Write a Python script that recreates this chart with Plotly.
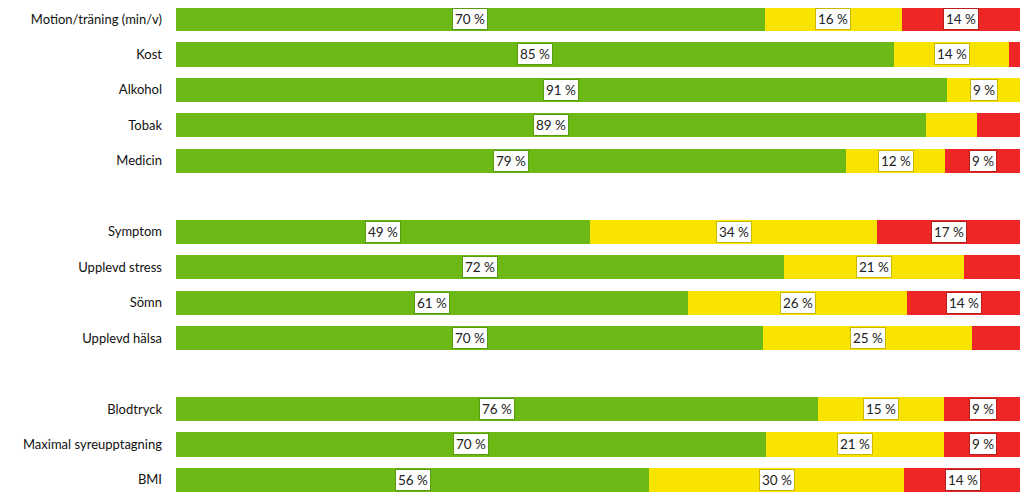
import plotly.graph_objects as go

# Categories top to bottom, with None as spacer rows between groups
categories = ["Motion/träning (min/v)", "Kost", "Alkohol", "Tobak", "Medicin", None,
              "Symptom", "Upplevd stress", "Sömn", "Upplevd hälsa", None,
              "Blodtryck", "Maximal syreupptagning", "BMI"]

green = [69.7, 85.0, 91.2, 88.8, 79.3, None, 49.0, 72.0, 60.6, 69.5, None, 76.0, 69.8, 56.0]
yellow = [16.2, 13.6, 8.8, 6.0, 11.7, None, 34.0, 21.2, 25.9, 24.7, None, 14.9, 21.1, 30.2]
red = [14.1, 1.4, 0.0, 5.2, 9.0, None, 17.0, 6.8, 13.5, 5.8, None, 9.1, 9.1, 13.8]

# Label texts as printed on the bars (blank = no label)
green_text = ["70 %", "85 %", "91 %", "89 %", "79 %", None, "49 %", "72 %", "61 %", "70 %", None, "76 %", "70 %", "56 %"]
yellow_text = ["16 %", "14 %", "9 %", "", "12 %", None, "34 %", "21 %", "26 %", "25 %", None, "15 %", "21 %", "30 %"]
red_text = ["14 %", "", "", "", "9 %", None, "17 %", "", "14 %", "", None, "9 %", "9 %", "14 %"]

rows = [i for i, c in enumerate(categories) if c is not None]
names = [categories[i] for i in rows]

series = [
    ("Grön", green, green_text, "#6cb815", "#5a9c10"),
    ("Gul", yellow, yellow_text, "#f9e300", "#c9b800"),
    ("Röd", red, red_text, "#ee2726", "#b81e1d"),
]

FONT = "Lato, Open Sans, sans-serif"

fig = go.Figure()
base = [0.0] * len(rows)
annotations = []
for name, vals, texts, color, border in series:
    v = [vals[i] for i in rows]
    fig.add_trace(go.Bar(
        y=rows, x=v, name=name, orientation="h",
        marker=dict(color=color, line=dict(width=0)),
        width=0.68, hoverinfo="skip",
    ))
    for k, i in enumerate(rows):
        t = texts[i]
        if t:
            annotations.append(dict(
                x=base[k] + v[k] / 2, y=i, xref="x", yref="y", text=t,
                showarrow=False, bgcolor="white", bordercolor=border,
                borderwidth=1, borderpad=2,
                font=dict(family=FONT, size=13.5, color="#222222"),
            ))
        base[k] += v[k]

# the page body adds an 8 px margin, so the figure is sized to fit the window
fig.update_layout(
    barmode="stack",
    width=1020, height=495,
    margin=dict(l=168, r=7, t=0, b=5),
    plot_bgcolor="white", paper_bgcolor="white",
    showlegend=False,
    bargap=0,
    annotations=annotations,
    xaxis=dict(range=[0, 100], visible=False, fixedrange=True),
    yaxis=dict(
        range=[13.51, -0.31],
        tickmode="array", tickvals=rows, ticktext=names,
        showgrid=False, zeroline=False, showline=False, ticks="",
        ticklabelstandoff=13,
        tickfont=dict(family=FONT, size=13, color="#111111"),
    ),
)

fig.write_html("out.html")
